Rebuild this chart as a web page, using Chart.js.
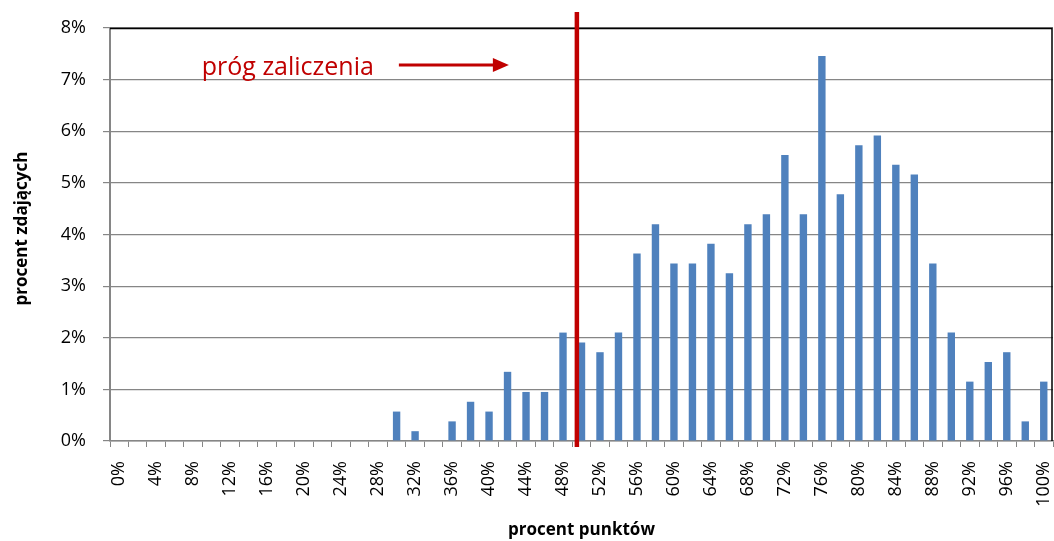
<!DOCTYPE html>
<html>
<head>
<meta charset="utf-8">
<script src="https://cdn.jsdelivr.net/npm/chart.js@4"></script>
<style>
  html, body { margin: 0; padding: 0; background: #fff; }
  #wrap { width: 1054px; height: 541px; position: relative; }
</style>
</head>
<body>
<div id="wrap"><canvas id="scoreChart"></canvas></div>
<script>
// score buckets (percent of points)
const categories = ["0%", "2%", "4%", "6%", "8%", "10%", "12%", "14%", "16%", "18%",
    "20%", "22%", "24%", "26%", "28%", "30%", "32%", "34%", "36%", "38%",
    "40%", "42%", "44%", "46%", "48%", "50%", "52%", "54%", "56%", "58%",
    "60%", "62%", "64%", "66%", "68%", "70%", "72%", "74%", "76%", "78%",
    "80%", "82%", "84%", "86%", "88%", "90%", "92%", "94%", "96%", "98%", "100%"];

// percent of students in each bucket
const shares = [0, 0, 0, 0, 0, 0, 0, 0, 0, 0,
    0, 0, 0, 0, 0, 0.57, 0.19, 0, 0.38, 0.76,
    0.57, 1.34, 0.95, 0.95, 2.10, 1.91, 1.72, 2.10, 3.63, 4.20,
    3.44, 3.44, 3.82, 3.25, 4.20, 4.39, 5.54, 4.39, 7.46, 4.78,
    5.73, 5.92, 5.35, 5.16, 3.44, 2.10, 1.15, 1.53, 1.72, 0.38, 1.15];

const yTicks = [0, 1, 2, 3, 4, 5, 6, 7, 8];
const passThreshold = 49.5;   // percent of points
const passLabel = "próg zaliczenia";
const xTitle = "procent punktów";
const yTitle = "procent zdających";

Chart.defaults.font.family = "'Open Sans', sans-serif";
Chart.defaults.color = "#000";

// Axis titles, threshold line, annotation and plot border
const extras = {
    id: "extras",
    afterDatasetsDraw(chart) {
        const { ctx, chartArea, scales } = chart;
        const x = scales.x.getPixelForValue(passThreshold / 2);

        ctx.save();
        // plot border top / right
        ctx.strokeStyle = "#000";
        ctx.lineWidth = 1.5;
        ctx.beginPath();
        ctx.moveTo(chartArea.left, chartArea.top + 0.5);
        ctx.lineTo(chartArea.right - 1, chartArea.top + 0.5);
        ctx.lineTo(chartArea.right - 1, chartArea.bottom);
        ctx.stroke();

        // threshold line
        ctx.strokeStyle = "#C00000";
        ctx.lineWidth = 4.5;
        ctx.beginPath();
        ctx.moveTo(x, chartArea.top - 16);
        ctx.lineTo(x, chartArea.bottom + 6);
        ctx.stroke();

        // arrow
        const ay = chartArea.top + 37;
        const tip = x - 68;
        ctx.lineWidth = 3;
        ctx.beginPath();
        ctx.moveTo(tip - 110, ay);
        ctx.lineTo(tip - 12, ay);
        ctx.stroke();
        ctx.fillStyle = "#C00000";
        ctx.beginPath();
        ctx.moveTo(tip, ay);
        ctx.lineTo(tip - 16, ay - 7);
        ctx.lineTo(tip - 16, ay + 7);
        ctx.closePath();
        ctx.fill();

        // annotation text
        ctx.font = "25px 'Open Sans', sans-serif";
        ctx.textAlign = "right";
        ctx.textBaseline = "alphabetic";
        ctx.fillText(passLabel, tip - 135, ay + 10);

        // axis titles
        ctx.fillStyle = "#000";
        ctx.font = "bold 17px 'Open Sans', sans-serif";
        ctx.textAlign = "center";
        ctx.textBaseline = "middle";
        ctx.fillText(xTitle, (chartArea.left + chartArea.right) / 2, 530);
        ctx.translate(22, (chartArea.top + chartArea.bottom) / 2 - 6);
        ctx.rotate(-Math.PI / 2);
        ctx.fillText(yTitle, 0, 0);
        ctx.restore();
    }
};

const ctx = document.getElementById("scoreChart").getContext("2d");
new Chart(ctx, {
    type: "bar",
    data: {
        labels: categories,
        datasets: [{
            data: shares,
            backgroundColor: "#4F81BD",
            borderWidth: 0,
            categoryPercentage: 1,
            barPercentage: 0.4
        }]
    },
    options: {
        responsive: true,
        maintainAspectRatio: false,
        animation: false,
        layout: { padding: { top: 28, right: 1, left: 0, bottom: 0 } },
        plugins: { legend: { display: false }, tooltip: { enabled: false } },
        scales: {
            x: {
                offset: true,
                afterFit: scale => {
                    scale.height = 100;
                    scale.paddingLeft = 0;
                    scale.paddingRight = 0;
                },
                grid: {
                    offset: true,
                    drawOnChartArea: false,
                    drawTicks: true,
                    tickLength: 6,
                    color: "#868686"
                },
                border: { color: "#868686", width: 1.5 },
                ticks: {
                    autoSkip: false,
                    minRotation: 90,
                    maxRotation: 90,
                    padding: 14,
                    font: { size: 18 },
                    callback: function (value, index) {
                        return index % 2 === 0 ? this.getLabelForValue(value) : "";
                    }
                }
            },
            y: {
                min: yTicks[0],
                max: yTicks[yTicks.length - 1],
                afterFit: scale => {
                    scale.width = 110;
                    scale.paddingTop = 0;
                    scale.paddingBottom = 0;
                },
                afterBuildTicks: scale => { scale.ticks = yTicks.map(v => ({ value: v })); },
                grid: { color: "#868686", lineWidth: 1.2, tickLength: 7 },
                border: { color: "#868686", width: 2 },
                ticks: {
                    padding: 17,
                    font: { size: 18 },
                    callback: v => v + "%"
                }
            }
        }
    },
    plugins: [extras]
});
</script>
</body>
</html>
